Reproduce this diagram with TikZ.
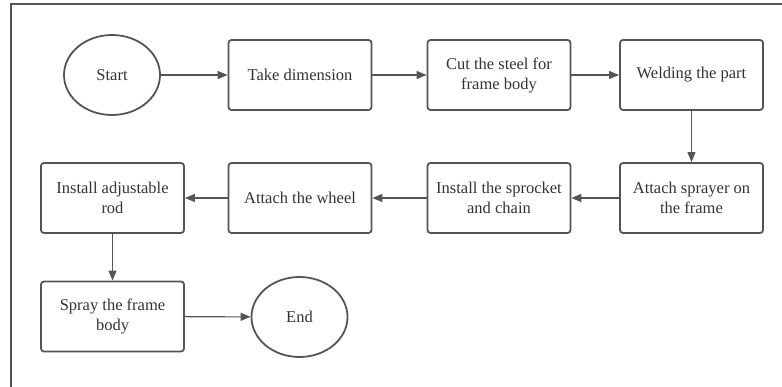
\documentclass[tikz,border=0pt]{standalone}
\usepackage{fontspec}
\setmainfont{Liberation Serif}
\usetikzlibrary{shapes.geometric,arrows.meta}
\definecolor{ln}{HTML}{555555}
\definecolor{tx}{HTML}{333333}
\tikzset{
  box/.style={draw=ln, line width=1.8pt, rounded corners=3pt, minimum width=143pt, minimum height=70pt, align=center, text=tx, font=\fontsize{16.5}{20}\selectfont, inner sep=0pt},
  term/.style={draw=ln, line width=1.8pt, ellipse, minimum width=96pt, minimum height=80pt, text=tx, font=\fontsize{16.5}{20}\selectfont, inner sep=0pt},
  conn/.style={draw=ln, line width=1.1pt, -{Triangle[length=10pt,width=8pt]}}
}
\begin{document}
\begin{tikzpicture}[x=1pt,y=-1pt]
\useasboundingbox (0,0) rectangle (782,387);
\draw[ln, line width=1.3pt] (11,387) -- (11,4) -- (782,4);
\node[term] (start) at (112,75) {Start};
\node[box] (take) at (300,75) {Take dimension};
\node[box] (cut) at (499,75) {Cut the steel for\\frame body};
\node[box] (weld) at (691.5,75) {Welding the part};
\node[box] (spr) at (691.5,198) {Attach sprayer on\\the frame};
\node[box] (sproc) at (499,198) {Install the sprocket\\and chain};
\node[box] (wheel) at (300,198) {Attach the wheel};
\node[box] (rod) at (112.5,198) {Install adjustable\\rod};
\node[box] (spray) at (112.5,316.5) {Spray the frame\\body};
\node[term] (end) at (299.5,317) {End};
\draw[conn] (start) -- (take);
\draw[conn] (take) -- (cut);
\draw[conn] (cut) -- (weld);
\draw[conn] (weld) -- (spr);
\draw[conn] (spr) -- (sproc);
\draw[conn] (sproc) -- (wheel);
\draw[conn] (wheel) -- (rod);
\draw[conn] (rod) -- (spray);
\draw[conn] (spray) -- (end);
\end{tikzpicture}
\end{document}
